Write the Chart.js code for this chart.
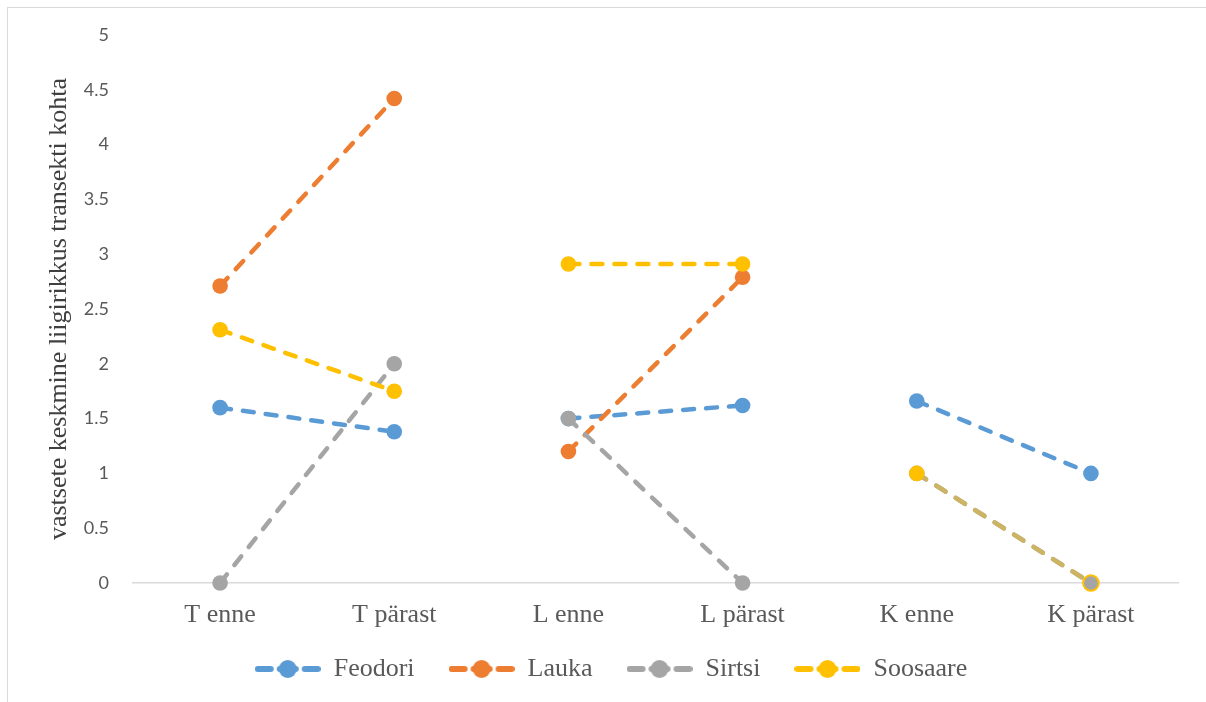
<!DOCTYPE html>
<html>
<head>
<meta charset="utf-8">
<script src="https://cdn.jsdelivr.net/npm/chart.js@4/dist/chart.umd.min.js"></script>
<style>
  html, body { margin: 0; padding: 0; background: #ffffff; }
  #wrap { position: relative; width: 1206px; height: 702px; overflow: hidden; }
  #frame { position: absolute; left: 7px; top: 7px; width: 1220px; height: 720px;
           border-top: 1px solid #d9d9d9; border-left: 1px solid #d9d9d9; box-sizing: border-box; }
  canvas { position: absolute; left: 0; top: 0; }
</style>
</head>
<body>
<div id="wrap">
  <div id="frame"></div>
  <canvas id="chart" width="1206" height="702"></canvas>
</div>
<script>
// Sampling points: before (enne) and after (pärast) for each transect
const categories = ['T enne', 'T pärast', 'L enne', 'L pärast', 'K enne', 'K pärast'];

// Mean species richness of larvae per transect point
const feodori  = [1.6, 1.38, 1.5, 1.62, 1.66, 1.0];
const lauka    = [2.71, 4.42, 1.2, 2.79, null, null];
const sirtsi   = [0, 2.0, 1.5, 0, 1.0, 0];
const soosaare = [2.31, 1.75, 2.91, 2.91, 1.0, 0];

const yTicks = [0, 0.5, 1, 1.5, 2, 2.5, 3, 3.5, 4, 4.5, 5];

const seriesNames  = ['Feodori', 'Lauka', 'Sirtsi', 'Soosaare'];
const seriesColors = ['#5b9bd5', '#ed7d31', '#a5a5a5', '#ffc000'];
const seriesData   = [feodori, lauka, sirtsi, soosaare];

const SERIF = "'Liberation Serif', 'Times New Roman', serif";
const SANS  = "Lato, 'Open Sans', 'Noto Sans', sans-serif";
const TEXT  = '#595959';

// Only connect the before/after pair of the same transect
function pairColor(color, datasetIndex) {
  return ctx => {
    const i = ctx.p0DataIndex;
    if (i % 2 === 1) return 'rgba(0,0,0,0)';
    if (datasetIndex === 3 && i === 4) return '#cdb463';
    return color;
  };
}

// Legend swatch: dash, dot, dash
function legendSwatch(color) {
  const c = document.createElement('canvas');
  c.width = 66; c.height = 20;
  const g = c.getContext('2d');
  g.strokeStyle = color;
  g.fillStyle = color;
  g.lineWidth = 6;
  g.lineCap = 'round';
  g.beginPath(); g.moveTo(3, 10); g.lineTo(16, 10); g.stroke();
  g.beginPath(); g.moveTo(50, 10); g.lineTo(63, 10); g.stroke();
  g.beginPath(); g.moveTo(25, 10); g.lineTo(41, 10); g.stroke();
  g.beginPath(); g.arc(33, 10, 9, 0, Math.PI * 2); g.fill();
  return c;
}
const swatches = seriesColors.map(legendSwatch);

const datasets = seriesNames.map((name, k) => {
  const color = seriesColors[k];
  const pointBg = categories.map((_, i) => (k === 3 && i === 5) ? 'rgba(165,165,165,0)' : color);
  const pointBorder = categories.map(() => color);
  const pointBw = categories.map((_, i) => (k === 3 && i === 5) ? 2 : 0);
  return {
    label: name,
    data: seriesData[k],
    borderColor: color,
    backgroundColor: color,
    borderWidth: 4.5,
    borderDash: [11, 12],
    borderCapStyle: 'round',
    pointRadius: 7.8,
    pointHoverRadius: 7.8,
    pointBackgroundColor: pointBg,
    pointBorderColor: pointBorder,
    pointBorderWidth: pointBw,
    spanGaps: false,
    tension: 0,
    fill: false,
    clip: false,
    order: 4 - k,
    segment: { borderColor: pairColor(color, k) }
  };
});

new Chart(document.getElementById('chart'), {
  type: 'line',
  data: { labels: categories, datasets },
  options: {
    responsive: false,
    animation: false,
    devicePixelRatio: 1,
    layout: { padding: { top: 35, right: 28, bottom: 10, left: 44 } },
    plugins: {
      tooltip: { enabled: false },
      legend: {
        position: 'bottom',
        labels: {
          usePointStyle: true,
          pointStyleWidth: 66,
          padding: 34,
          color: TEXT,
          font: { family: SERIF, size: 26 },
          generateLabels: chart => chart.data.datasets.map((ds, i) => ({
            text: ds.label,
            pointStyle: swatches[i],
            fillStyle: ds.borderColor,
            strokeStyle: ds.borderColor,
            lineWidth: 0,
            hidden: false,
            datasetIndex: i,
            fontColor: TEXT
          }))
        }
      }
    },
    scales: {
      x: {
        type: 'category',
        offset: true,
        grid: { display: false, drawTicks: false },
        border: { display: true, color: '#d9d9d9', width: 1.5 },
        ticks: { color: TEXT, font: { family: SERIF, size: 26 }, padding: 17, maxRotation: 0 },
        afterFit: s => {
          s.height = 39;
          // labels hang below the compact axis box into the gap above the legend
          s._computeLabelArea = () => undefined;
        }
      },
      y: {
        min: 0,
        max: 5,
        afterBuildTicks: s => { s.ticks = yTicks.map(v => ({ value: v })); },
        grid: { display: false, drawTicks: false },
        border: { display: false },
        ticks: {
          color: TEXT,
          font: { family: SANS, size: 18 },
          padding: 24,
          callback: v => String(v)
        },
        title: {
          display: true,
          text: 'vastsete keskmine liigirikkus transekti kohta',
          color: '#404040',
          font: { family: SERIF, size: 26 },
          padding: { top: 0, bottom: 0 }
        },
        afterFit: s => { s.width = 89; }
      }
    }
  }
});
</script>
</body>
</html>
